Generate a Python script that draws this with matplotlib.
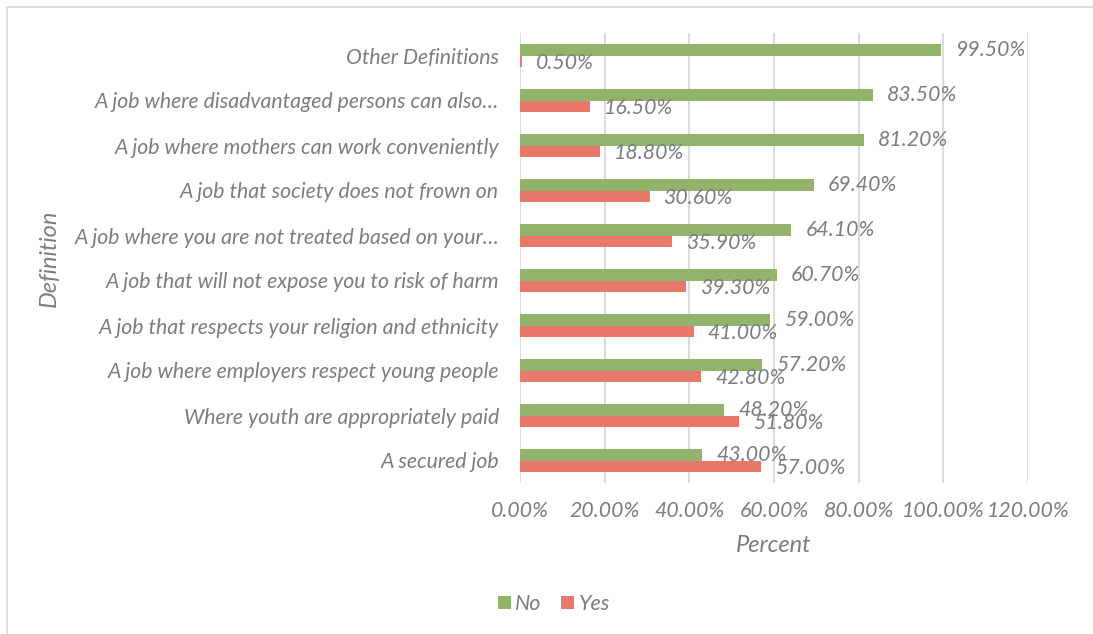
import matplotlib.pyplot as plt
import numpy as np
from matplotlib.patches import Rectangle

categories = [
    "Other Definitions",
    "A job where disadvantaged persons can also…",
    "A job where mothers can work conveniently",
    "A job that society does not frown on",
    "A job where you are not treated based on your…",
    "A job that will not expose you to risk of harm",
    "A job that respects your religion and ethnicity",
    "A job where employers respect young people",
    "Where youth are appropriately paid",
    "A secured job",
]
no_vals = [99.5, 83.5, 81.2, 69.4, 64.1, 60.7, 59.0, 57.2, 48.2, 43.0]
yes_vals = [0.5, 16.5, 18.8, 30.6, 35.9, 39.3, 41.0, 42.8, 51.8, 57.0]
x_ticks = [0, 20, 40, 60, 80, 100, 120]

green = "#93b26c"
red = "#e8786a"
grey = "#7d7d7d"

plt.rcParams["font.family"] = ["Lato", "DejaVu Sans"]
plt.rcParams["font.style"] = "italic"
plt.rcParams["font.weight"] = "normal"
fs = 15.3

fig = plt.figure(figsize=(10.93, 6.34), dpi=100)
ax = fig.add_axes([520 / 1093, 1 - 483 / 634, (1028 - 520) / 1093, (483 - 33) / 634])

y = np.arange(len(categories))[::-1]
h = 0.25
ax.barh(y + h / 2, no_vals, height=h, color=green, label="No", zorder=3)
ax.barh(y - h / 2, yes_vals, height=h, color=red, label="Yes", zorder=3)

for yi, v in zip(y, no_vals):
    ax.annotate(f"{v:.2f}%", (v, yi + h / 2), xytext=(10, 0), textcoords="offset points",
                ha="left", va="center", color=grey, fontsize=fs)
for yi, v in zip(y, yes_vals):
    ax.annotate(f"{v:.2f}%", (v, yi - h / 2), xytext=(10, -1), textcoords="offset points",
                ha="left", va="center", color=grey, fontsize=fs)

ax.set_xlim(0, 120)
ax.set_ylim(-0.5, len(categories) - 0.5)
ax.set_xticks(x_ticks)
ax.set_xticklabels([f"{t:.2f}%" for t in x_ticks])
ax.set_yticks(y)
ax.set_yticklabels(categories)
ax.tick_params(length=0, labelsize=fs, labelcolor=grey)
ax.tick_params(axis="y", pad=15)
ax.tick_params(axis="x", pad=13)
ax.grid(axis="x", color="#d9d9d9", linewidth=1.3, zorder=0)
for s in ax.spines.values():
    s.set_visible(False)

ax.set_xlabel("Percent", fontsize=17, color=grey, labelpad=10, fontweight="normal")
ax.set_ylabel("Definition", fontsize=17, color=grey, fontweight="normal")
ax.yaxis.set_label_coords(-0.905, 0.5)

fig.legend(loc="center", bbox_to_anchor=(554 / 1093, 1 - 604 / 634), ncol=2, frameon=False,
           fontsize=15.5, labelcolor=grey, handlelength=0.6, handleheight=0.6,
           handletextpad=0.2, columnspacing=0.9)

# light frame around the chart area
fig.patches.append(Rectangle((7 / 1093, -0.05), 1.1, 1 - 7 / 634 + 0.05, transform=fig.transFigure,
                             fill=False, edgecolor="#d9d9d9", linewidth=1.2))

fig.savefig("out.png", dpi=100)
